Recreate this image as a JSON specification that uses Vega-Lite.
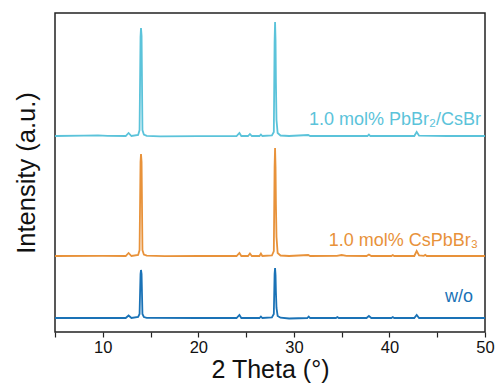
{
  "$schema": "https://vega.github.io/schema/vega-lite/v6.json",
  "width": 430,
  "height": 319,
  "autosize": "none",
  "padding": {"left": 55, "top": 13, "right": 13, "bottom": 53},
  "background": "white",
  "config": {
    "view": {"stroke": "#222222", "strokeWidth": 1.5},
    "font": "Liberation Sans"
  },
  "datasets": {
    "xrd": [
      {"s": "c", "x": 5, "y": 196}, {"s": "c", "x": 8, "y": 196.3}, {"s": "c", "x": 9.5, "y": 196.6}, {"s": "c", "x": 10.5, "y": 196.2},
      {"s": "c", "x": 12.4, "y": 196}, {"s": "c", "x": 12.7, "y": 199}, {"s": "c", "x": 13.0, "y": 196}, {"s": "c", "x": 13.7, "y": 197},
      {"s": "c", "x": 13.85, "y": 202}, {"s": "c", "x": 13.95, "y": 295}, {"s": "c", "x": 14.0, "y": 304}, {"s": "c", "x": 14.06, "y": 296},
      {"s": "c", "x": 14.15, "y": 202}, {"s": "c", "x": 14.3, "y": 197.5}, {"s": "c", "x": 14.6, "y": 196.2}, {"s": "c", "x": 16, "y": 195.6},
      {"s": "c", "x": 20, "y": 195.8}, {"s": "c", "x": 24.0, "y": 196}, {"s": "c", "x": 24.3, "y": 199}, {"s": "c", "x": 24.5, "y": 196},
      {"s": "c", "x": 25.2, "y": 196}, {"s": "c", "x": 25.4, "y": 198}, {"s": "c", "x": 25.6, "y": 196}, {"s": "c", "x": 26.4, "y": 196},
      {"s": "c", "x": 26.55, "y": 197.5}, {"s": "c", "x": 26.7, "y": 196}, {"s": "c", "x": 27.7, "y": 196.5}, {"s": "c", "x": 27.9, "y": 200},
      {"s": "c", "x": 27.98, "y": 290}, {"s": "c", "x": 28.03, "y": 310}, {"s": "c", "x": 28.08, "y": 292}, {"s": "c", "x": 28.12, "y": 250},
      {"s": "c", "x": 28.18, "y": 212}, {"s": "c", "x": 28.3, "y": 199}, {"s": "c", "x": 28.6, "y": 196.5}, {"s": "c", "x": 29.5, "y": 196},
      {"s": "c", "x": 31.5, "y": 197}, {"s": "c", "x": 31.7, "y": 196}, {"s": "c", "x": 37.7, "y": 196}, {"s": "c", "x": 37.85, "y": 197.5},
      {"s": "c", "x": 38.0, "y": 196}, {"s": "c", "x": 42.6, "y": 196}, {"s": "c", "x": 42.85, "y": 200}, {"s": "c", "x": 43.1, "y": 196.3},
      {"s": "c", "x": 46, "y": 196}, {"s": "c", "x": 50, "y": 196},

      {"s": "o", "x": 5, "y": 76}, {"s": "o", "x": 10, "y": 76.2}, {"s": "o", "x": 12.4, "y": 76}, {"s": "o", "x": 12.7, "y": 79},
      {"s": "o", "x": 13.0, "y": 76}, {"s": "o", "x": 13.7, "y": 77}, {"s": "o", "x": 13.85, "y": 82}, {"s": "o", "x": 13.95, "y": 170},
      {"s": "o", "x": 14.0, "y": 178}, {"s": "o", "x": 14.06, "y": 170}, {"s": "o", "x": 14.15, "y": 82}, {"s": "o", "x": 14.3, "y": 77.5},
      {"s": "o", "x": 14.6, "y": 76.3}, {"s": "o", "x": 16.5, "y": 75.8}, {"s": "o", "x": 20, "y": 76}, {"s": "o", "x": 24.0, "y": 76},
      {"s": "o", "x": 24.3, "y": 79}, {"s": "o", "x": 24.5, "y": 76}, {"s": "o", "x": 25.2, "y": 76}, {"s": "o", "x": 25.4, "y": 78.5},
      {"s": "o", "x": 25.6, "y": 76}, {"s": "o", "x": 26.4, "y": 76}, {"s": "o", "x": 26.55, "y": 78.5}, {"s": "o", "x": 26.7, "y": 76},
      {"s": "o", "x": 27.7, "y": 76.5}, {"s": "o", "x": 27.9, "y": 81}, {"s": "o", "x": 27.98, "y": 165}, {"s": "o", "x": 28.03, "y": 184},
      {"s": "o", "x": 28.08, "y": 165}, {"s": "o", "x": 28.12, "y": 128}, {"s": "o", "x": 28.18, "y": 95}, {"s": "o", "x": 28.3, "y": 79},
      {"s": "o", "x": 28.6, "y": 76.5}, {"s": "o", "x": 29.5, "y": 76}, {"s": "o", "x": 31.5, "y": 77}, {"s": "o", "x": 31.7, "y": 76},
      {"s": "o", "x": 34.5, "y": 76.2}, {"s": "o", "x": 35.0, "y": 77}, {"s": "o", "x": 35.5, "y": 76.2}, {"s": "o", "x": 37.6, "y": 76},
      {"s": "o", "x": 37.85, "y": 77.5}, {"s": "o", "x": 38.1, "y": 76}, {"s": "o", "x": 40.2, "y": 76}, {"s": "o", "x": 40.35, "y": 77},
      {"s": "o", "x": 40.5, "y": 76}, {"s": "o", "x": 42.6, "y": 76}, {"s": "o", "x": 42.85, "y": 81}, {"s": "o", "x": 43.1, "y": 76.5},
      {"s": "o", "x": 43.6, "y": 76.2}, {"s": "o", "x": 43.75, "y": 77.2}, {"s": "o", "x": 43.9, "y": 76}, {"s": "o", "x": 50, "y": 76},

      {"s": "b", "x": 5, "y": 14}, {"s": "b", "x": 10, "y": 14}, {"s": "b", "x": 12.4, "y": 14}, {"s": "b", "x": 12.7, "y": 16.5},
      {"s": "b", "x": 13.0, "y": 14}, {"s": "b", "x": 13.7, "y": 15}, {"s": "b", "x": 13.85, "y": 18}, {"s": "b", "x": 13.95, "y": 58},
      {"s": "b", "x": 14.0, "y": 62}, {"s": "b", "x": 14.06, "y": 58}, {"s": "b", "x": 14.15, "y": 18}, {"s": "b", "x": 14.3, "y": 15},
      {"s": "b", "x": 14.6, "y": 14.2}, {"s": "b", "x": 20, "y": 14}, {"s": "b", "x": 24.0, "y": 14}, {"s": "b", "x": 24.3, "y": 17},
      {"s": "b", "x": 24.5, "y": 14}, {"s": "b", "x": 26.4, "y": 14}, {"s": "b", "x": 26.55, "y": 15.5}, {"s": "b", "x": 26.7, "y": 14},
      {"s": "b", "x": 27.7, "y": 14.5}, {"s": "b", "x": 27.9, "y": 18}, {"s": "b", "x": 27.98, "y": 58}, {"s": "b", "x": 28.03, "y": 64},
      {"s": "b", "x": 28.08, "y": 57}, {"s": "b", "x": 28.12, "y": 40}, {"s": "b", "x": 28.18, "y": 24}, {"s": "b", "x": 28.3, "y": 16},
      {"s": "b", "x": 28.6, "y": 14.3}, {"s": "b", "x": 29.5, "y": 13.5}, {"s": "b", "x": 31.4, "y": 14}, {"s": "b", "x": 31.55, "y": 15.5},
      {"s": "b", "x": 31.7, "y": 14}, {"s": "b", "x": 34.4, "y": 14}, {"s": "b", "x": 34.55, "y": 15}, {"s": "b", "x": 34.7, "y": 14},
      {"s": "b", "x": 37.6, "y": 14}, {"s": "b", "x": 37.85, "y": 16}, {"s": "b", "x": 38.1, "y": 14}, {"s": "b", "x": 40.2, "y": 14},
      {"s": "b", "x": 40.35, "y": 15}, {"s": "b", "x": 40.5, "y": 14}, {"s": "b", "x": 42.6, "y": 14}, {"s": "b", "x": 42.85, "y": 17},
      {"s": "b", "x": 43.1, "y": 14}, {"s": "b", "x": 50, "y": 14}
    ],
    "labels": [
      {"s": "c", "x": 49.58, "y": 207, "t": "1.0 mol% PbBr₂/CsBr"},
      {"s": "o", "x": 49.27, "y": 86, "t": "1.0 mol% CsPbBr₃"},
      {"s": "b", "x": 48.74, "y": 30, "t": "w/o"}
    ]
  },
  "layer": [
    {
      "data": {"name": "xrd"},
      "mark": {"type": "line", "strokeWidth": 1.8, "clip": true, "interpolate": "linear"},
      "encoding": {
        "x": {
          "field": "x", "type": "quantitative",
          "scale": {"domain": [5, 50], "nice": false, "zero": false},
          "axis": {
            "title": "2 Theta (°)",
            "values": [5, 10, 15, 20, 25, 30, 35, 40, 45, 50],
            "labelExpr": "datum.value % 10 == 0 ? datum.label : ''",
            "grid": false, "domain": false,
            "tickSize": 5, "tickWidth": 1.2, "tickColor": "#222222",
            "labelFontSize": 16.5, "labelColor": "#111111", "labelPadding": 2,
            "labelFlush": false, "labelOverlap": false,
            "titleFontSize": 25, "titleFontWeight": "normal", "titleColor": "#111111", "titlePadding": 2
          }
        },
        "y": {
          "field": "y", "type": "quantitative",
          "scale": {"domain": [0, 319], "nice": false},
          "axis": {
            "title": "Intensity (a.u.)", "labels": false, "ticks": false, "grid": false, "domain": false,
            "titleFontSize": 25.5, "titleFontWeight": "normal", "titleColor": "#111111", "titlePadding": 16
          }
        },
        "color": {
          "field": "s", "type": "nominal",
          "scale": {"domain": ["c", "o", "b"], "range": ["#5bc3da", "#e8923a", "#1a72b6"]},
          "legend": null
        },
        "detail": {"field": "s"}
      }
    },
    {
      "data": {"name": "labels"},
      "mark": {"type": "text", "align": "right", "baseline": "alphabetic", "fontSize": 18},
      "encoding": {
        "x": {"field": "x", "type": "quantitative"},
        "y": {"field": "y", "type": "quantitative"},
        "text": {"field": "t"},
        "color": {"field": "s", "type": "nominal", "legend": null}
      }
    }
  ]
}
